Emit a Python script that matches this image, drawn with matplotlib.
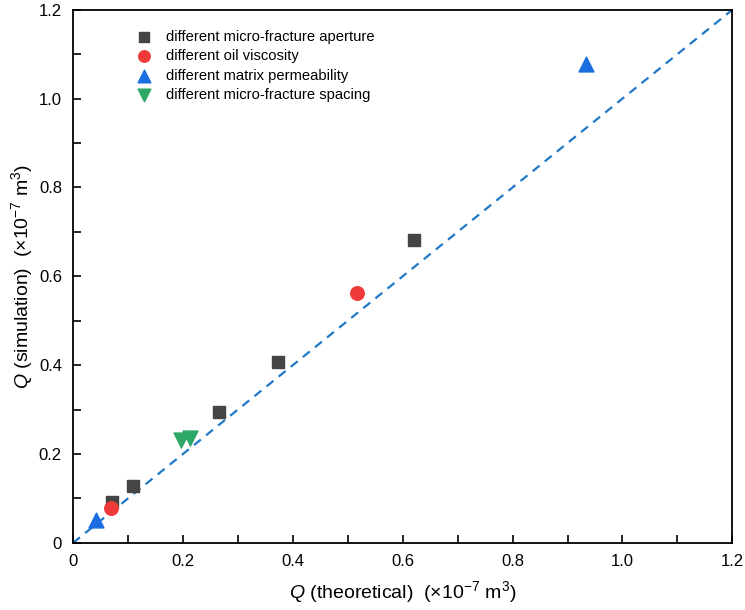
import numpy as np
import matplotlib
matplotlib.use("Agg")
import matplotlib.pyplot as plt

plt.rcParams['font.family'] = ['Liberation Sans', 'DejaVu Sans']
plt.rcParams['mathtext.fontset'] = 'custom'
plt.rcParams['mathtext.rm'] = 'Liberation Sans'
plt.rcParams['mathtext.it'] = 'Liberation Sans:italic'

# data (units: x10^-7 m^3)
aperture_x = [0.071, 0.109, 0.266, 0.373, 0.620]
aperture_y = [0.092, 0.128, 0.295, 0.408, 0.682]
viscosity_x = [0.069, 0.516]
viscosity_y = [0.079, 0.563]
permeability_x = [0.042, 0.934]
permeability_y = [0.052, 1.079]
spacing_x = [0.196, 0.213]
spacing_y = [0.231, 0.236]

tick_vals = [0, 0.2, 0.4, 0.6, 0.8, 1.0, 1.2]
tick_labels = ["0", "0.2", "0.4", "0.6", "0.8", "1.0", "1.2"]

fig = plt.figure(figsize=(7.45, 6.10), dpi=100)
ax = fig.add_axes([0.098, 0.110, 0.885, 0.874])

ax.plot([0, 1.2], [0, 1.2], linestyle=(0, (4, 3)), color='#1f78c8', lw=1.6, zorder=1)

ax.scatter(aperture_x, aperture_y, marker='s', s=80, color='#454545',
           label='different micro-fracture aperture', zorder=3)
ax.scatter(viscosity_x, viscosity_y, marker='o', s=95, color='#f03a3a',
           label='different oil viscosity', zorder=3)
ax.scatter(permeability_x, permeability_y, marker='^', s=115, color='#1a6ee0',
           label='different matrix permeability', zorder=3)
ax.scatter(spacing_x, spacing_y, marker='v', s=115, color='#2ea866',
           label='different micro-fracture spacing', zorder=3)

ax.set_xlim(0, 1.2)
ax.set_ylim(0, 1.2)
ax.set_xticks(tick_vals)
ax.set_xticklabels(tick_labels)
ax.set_yticks(tick_vals)
ax.set_yticklabels(tick_labels)
ax.set_xticks(np.arange(0.1, 1.2, 0.2), minor=True)
ax.set_yticks(np.arange(0.1, 1.2, 0.2), minor=True)
ax.tick_params(which='both', direction='in', length=6, width=1.2, labelsize=12, pad=8)
for sp in ax.spines.values():
    sp.set_linewidth(1.3)

ax.set_xlabel(r'$\it{Q}$ (theoretical)  (×10$^{-7}$ m$^{3}$)', fontsize=14, labelpad=7)
ax.set_ylabel(r'$\it{Q}$ (simulation)  (×10$^{-7}$ m$^{3}$)', fontsize=14, labelpad=3)

leg = ax.legend(loc='upper left', bbox_to_anchor=(0.068, 0.985), frameon=False,
                fontsize=10.6, handletextpad=0.5, labelspacing=0.38, borderpad=0.3,
                markerscale=0.85)

fig.savefig('out.png', dpi=100)
